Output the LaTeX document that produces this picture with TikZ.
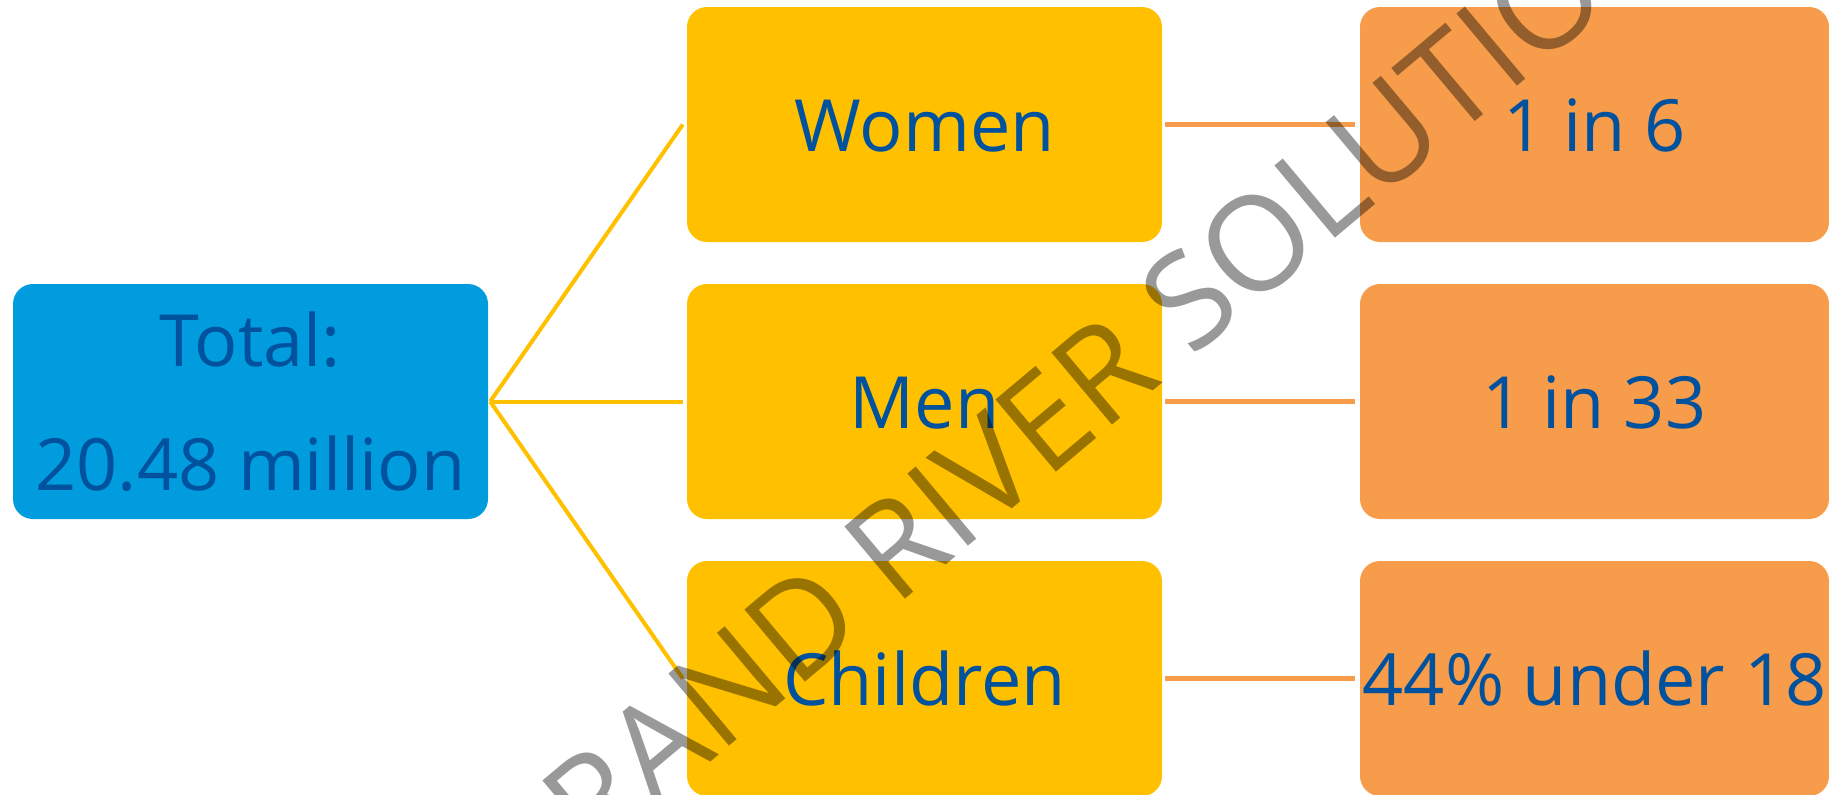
\documentclass[tikz,border=0pt]{standalone}
\usepackage{fontspec}
\setmainfont{Open Sans}
\usetikzlibrary{calc}
\definecolor{boxblue}{HTML}{019CDD}
\definecolor{txtblue}{HTML}{00519E}
\definecolor{gold}{HTML}{FFC000}
\definecolor{orng}{HTML}{F69C4A}
\begin{document}
\begin{tikzpicture}[x=1pt,y=-1pt,
  box/.style={rectangle, rounded corners=20pt, inner sep=0pt, minimum height=235pt,
    text=txtblue, font=\fontsize{72}{124}\selectfont, align=center},
  oneline/.style={text height=53pt, text depth=0pt},
  totalbox/.style={box, fill=boxblue, minimum width=475pt},
  groupbox/.style={box, oneline, fill=gold, minimum width=475pt},
  statbox/.style={box, oneline, fill=orng, minimum width=469pt},
  goldline/.style={draw=gold, line width=4pt},
  orngline/.style={draw=orng, line width=5pt},
  wm/.style={text=black, text opacity=0.4, inner sep=0pt, font=\fontsize{132}{132}\selectfont}]
\useasboundingbox (0,0) rectangle (1829,795);
\clip (0,0) rectangle (1829,795);
\node[totalbox] (total) at (250.5,401.5) {Total:\\20.48 million};
\node[groupbox] (women) at (924.5,124.5) {Women};
\node[groupbox] (men) at (924.5,401.5) {Men};
\node[groupbox] (children) at (924.5,678.5) {Children};
\node[statbox] (swomen) at (1594.5,124.5) {1 in 6};
\node[statbox] (smen) at (1594.5,401.5) {1 in 33};
\node[statbox] (schildren) at (1594.5,678.5) {44\% under 18};
\coordinate (hub) at ($(total.east)+(2,0)$);
\draw[goldline] (hub) -- ($(women.west)+(-4,0)$);
\draw[goldline] (hub) -- ($(men.west)+(-4,0)$);
\draw[goldline] (hub) -- ($(children.west)+(-4,0)$);
\draw[orngline] ($(women.east)+(3,0)$) -- ($(swomen.west)+(-5,0)$);
\draw[orngline] ($(men.east)+(3,0)$) -- ($(smen.west)+(-5,0)$);
\draw[orngline] ($(children.east)+(3,0)$) -- ($(schildren.west)+(-5,0)$);
\node[wm, rotate=40, anchor=base west] (wmark) at (519.4,922.9) {GRAND RIVER SOLUTIONS};
\end{tikzpicture}
\end{document}
